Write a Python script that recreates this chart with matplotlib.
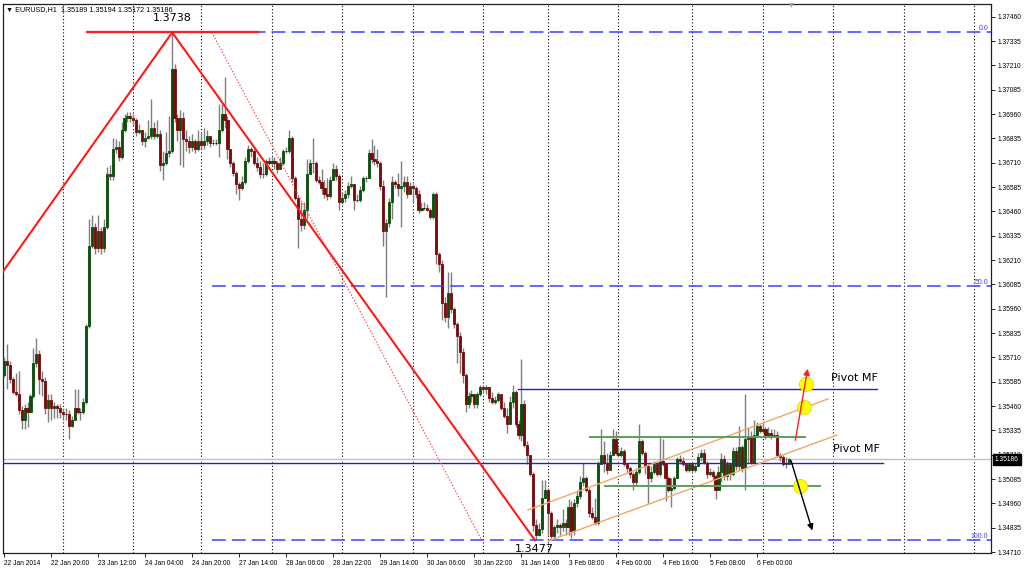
import matplotlib
matplotlib.use("Agg")
import matplotlib.pyplot as plt
from matplotlib.transforms import blended_transform_factory

# ---------------- data (EURUSD H1) ----------------
first_open = 1.3562
closes = [
    1.3569, 1.3567, 1.3560, 1.3553, 1.3552, 1.3544, 1.3539, 1.3545, 1.3543, 1.3551,
    1.3568, 1.3573, 1.3560, 1.3559, 1.3545, 1.3549, 1.3545, 1.3546, 1.3545, 1.3543,
    1.3542, 1.3542, 1.3536, 1.3539, 1.3545, 1.3543, 1.3543, 1.3548, 1.3587, 1.3628,
    1.3638, 1.3627, 1.3636, 1.3627, 1.3638, 1.3665, 1.3664, 1.3678, 1.3679, 1.3674,
    1.3688, 1.3694, 1.3695, 1.3694, 1.3693, 1.3687, 1.3688, 1.3682, 1.3684, 1.3685,
    1.3689, 1.3685, 1.3686, 1.3670, 1.3671, 1.3676, 1.3677, 1.3719, 1.3694, 1.3688,
    1.3694, 1.3683, 1.3682, 1.3679, 1.3682, 1.3678, 1.3682, 1.3680, 1.3682, 1.3685,
    1.3681, 1.3681, 1.3681, 1.3688, 1.3696, 1.3693, 1.3678, 1.3671, 1.3666, 1.3660,
    1.3658, 1.3661, 1.3672, 1.3678, 1.3677, 1.3671, 1.3669, 1.3665, 1.3665, 1.3672,
    1.3671, 1.3672, 1.3671, 1.3668, 1.3671, 1.3677, 1.3677, 1.3684, 1.3663, 1.3653,
    1.3642, 1.3639, 1.3647, 1.3665, 1.3671, 1.3671, 1.3662, 1.3661, 1.3658, 1.3655,
    1.3654, 1.3662, 1.3668, 1.3664, 1.3651, 1.3653, 1.3655, 1.3659, 1.3660, 1.3652,
    1.3652, 1.3657, 1.3663, 1.3663, 1.3676, 1.3673, 1.3672, 1.3671, 1.3659, 1.3636,
    1.3640, 1.3651, 1.3661, 1.3660, 1.3658, 1.3659, 1.3661, 1.3655, 1.3659, 1.3658,
    1.3655, 1.3647, 1.3648, 1.3648, 1.3647, 1.3643, 1.3655, 1.3624, 1.3619, 1.3599,
    1.3592, 1.3604, 1.3596, 1.3588, 1.3582, 1.3574, 1.3562, 1.3547, 1.3551, 1.3552,
    1.3547, 1.3552, 1.3556, 1.3555, 1.3556, 1.3550, 1.3548, 1.3549, 1.3552, 1.3545,
    1.3541, 1.3537, 1.3548, 1.3553, 1.3537, 1.3531, 1.3547, 1.3526, 1.3521, 1.3511,
    1.3485, 1.3480, 1.3483, 1.3499, 1.3503, 1.3491, 1.3479, 1.3484, 1.3485, 1.3484,
    1.3486, 1.3484, 1.3494, 1.3482, 1.3496, 1.3500, 1.3507, 1.3509, 1.3503, 1.3491,
    1.3489, 1.3486, 1.3516, 1.3521, 1.3517, 1.3513, 1.3521, 1.3529, 1.3522, 1.3521,
    1.3523, 1.3516, 1.3514, 1.3511, 1.3507, 1.3512, 1.3528, 1.3522, 1.3515, 1.3509,
    1.3512, 1.3516, 1.3511, 1.3518, 1.3516, 1.3509, 1.3503, 1.3504, 1.3509, 1.3519,
    1.3518, 1.3516, 1.3513, 1.3516, 1.3513, 1.3515, 1.3520, 1.3522, 1.3517, 1.3511,
    1.3512, 1.3510, 1.3503, 1.3512, 1.3519, 1.3510, 1.3516, 1.3511, 1.3523, 1.3515,
    1.3525, 1.3514, 1.3529, 1.3530, 1.3517, 1.3531, 1.3536, 1.3533, 1.3534, 1.3531,
    1.3532, 1.3530, 1.3531, 1.3521, 1.3520, 1.3516, 1.3516, 1.35186,
]
highs = [
    1.3571, 1.3578, 1.3569, 1.3561, 1.3563, 1.3564, 1.3546, 1.3547, 1.3548, 1.3552,
    1.3576, 1.3581, 1.3575, 1.3564, 1.3561, 1.3552, 1.3552, 1.3548, 1.3547, 1.3547,
    1.3545, 1.3545, 1.3544, 1.3541, 1.3555, 1.3555, 1.3545, 1.3550, 1.3588, 1.3642,
    1.3644, 1.3640, 1.3644, 1.3638, 1.3642, 1.3669, 1.3670, 1.3684, 1.3683, 1.3682,
    1.3692, 1.3696, 1.3697, 1.3697, 1.3696, 1.3694, 1.3691, 1.3688, 1.3687, 1.3693,
    1.3704, 1.3692, 1.3693, 1.3688, 1.3677, 1.3687, 1.3695, 1.3738, 1.3722, 1.3696,
    1.3698, 1.3697, 1.3688, 1.3685, 1.3686, 1.3683, 1.3688, 1.3687, 1.3689, 1.3688,
    1.3685, 1.3683, 1.3683, 1.3701, 1.3701, 1.3715, 1.3695, 1.3678, 1.3672, 1.3667,
    1.3661, 1.3664, 1.3674, 1.3680, 1.3679, 1.3678, 1.3674, 1.3672, 1.3671, 1.3673,
    1.3674, 1.3674, 1.3674, 1.3672, 1.3674, 1.3678, 1.3679, 1.3688, 1.3685, 1.3664,
    1.3654, 1.3651, 1.3651, 1.3673, 1.3673, 1.3684, 1.3672, 1.3664, 1.3668, 1.3662,
    1.3663, 1.3664, 1.3671, 1.3670, 1.3665, 1.3656, 1.3657, 1.3661, 1.3664, 1.3660,
    1.3655, 1.3659, 1.3664, 1.3664, 1.3678, 1.3683, 1.3680, 1.3678, 1.3672, 1.3662,
    1.3642, 1.3653, 1.3664, 1.3662, 1.3666, 1.3672, 1.3664, 1.3664, 1.3661, 1.3660,
    1.3659, 1.3657, 1.3651, 1.3651, 1.3650, 1.3648, 1.3656, 1.3656, 1.3625, 1.3621,
    1.3602, 1.3615, 1.3615, 1.3597, 1.3589, 1.3584, 1.3576, 1.3563, 1.3553, 1.3554,
    1.3551, 1.3553, 1.3557, 1.3557, 1.3557, 1.3556, 1.3553, 1.3551, 1.3553, 1.3550,
    1.3548, 1.3545, 1.3551, 1.3557, 1.3554, 1.3539, 1.3570, 1.3549, 1.3528, 1.3521,
    1.3512, 1.3488, 1.3486, 1.3508, 1.3508, 1.3504, 1.3492, 1.3485, 1.3488, 1.3486,
    1.3493, 1.3488, 1.3498, 1.3497, 1.3498, 1.3503, 1.3510, 1.3517, 1.3510, 1.3504,
    1.3494, 1.3499, 1.3518, 1.3534, 1.3528, 1.3522, 1.3523, 1.3534, 1.3533, 1.3525,
    1.3525, 1.3524, 1.3517, 1.3515, 1.3512, 1.3514, 1.3537, 1.3529, 1.3523, 1.3517,
    1.3515, 1.3518, 1.3518, 1.3530, 1.3529, 1.3517, 1.3510, 1.3509, 1.3510, 1.3520,
    1.3521, 1.3520, 1.3517, 1.3517, 1.3516, 1.3517, 1.3522, 1.3524, 1.3524, 1.3518,
    1.3514, 1.3513, 1.3511, 1.3515, 1.3522, 1.3521, 1.3518, 1.3517, 1.3525, 1.3525,
    1.3536, 1.3526, 1.3552, 1.3535, 1.3533, 1.3539, 1.3538, 1.3537, 1.3538, 1.3535,
    1.3535, 1.3534, 1.3534, 1.3533, 1.3522, 1.3521, 1.3520, 1.35194,
]
lows = [
    1.3561, 1.3555, 1.3558, 1.3552, 1.3551, 1.3542, 1.3534, 1.3534, 1.3535, 1.3543,
    1.3550, 1.3566, 1.3552, 1.3551, 1.3542, 1.3538, 1.3539, 1.3540, 1.3540, 1.3540,
    1.3539, 1.3539, 1.3529, 1.3535, 1.3539, 1.3542, 1.3539, 1.3542, 1.3547, 1.3586,
    1.3627, 1.3624, 1.3625, 1.3624, 1.3625, 1.3637, 1.3662, 1.3662, 1.3676, 1.3672,
    1.3673, 1.3687, 1.3692, 1.3692, 1.3690, 1.3685, 1.3686, 1.3680, 1.3679, 1.3683,
    1.3683, 1.3683, 1.3684, 1.3667, 1.3662, 1.3670, 1.3674, 1.3676, 1.3692, 1.3682,
    1.3670, 1.3669, 1.3677, 1.3676, 1.3677, 1.3676, 1.3677, 1.3678, 1.3678, 1.3680,
    1.3679, 1.3680, 1.3680, 1.3674, 1.3687, 1.3689, 1.3673, 1.3669, 1.3664, 1.3655,
    1.3652, 1.3657, 1.3660, 1.3671, 1.3674, 1.3670, 1.3667, 1.3663, 1.3663, 1.3664,
    1.3670, 1.3670, 1.3668, 1.3666, 1.3668, 1.3670, 1.3676, 1.3676, 1.3661, 1.3652,
    1.3627, 1.3636, 1.3637, 1.3642, 1.3665, 1.3666, 1.3661, 1.3660, 1.3655, 1.3653,
    1.3652, 1.3653, 1.3664, 1.3662, 1.3647, 1.3650, 1.3651, 1.3653, 1.3658, 1.3647,
    1.3651, 1.3651, 1.3656, 1.3661, 1.3663, 1.3671, 1.3670, 1.3669, 1.3657, 1.3628,
    1.3602, 1.3638, 1.3642, 1.3658, 1.3654, 1.3638, 1.3656, 1.3653, 1.3655, 1.3651,
    1.3653, 1.3645, 1.3646, 1.3647, 1.3646, 1.3642, 1.3642, 1.3619, 1.3615, 1.3590,
    1.3589, 1.3586, 1.3594, 1.3586, 1.3568, 1.3563, 1.3558, 1.3543, 1.3545, 1.3548,
    1.3545, 1.3545, 1.3551, 1.3553, 1.3552, 1.3548, 1.3547, 1.3547, 1.3548, 1.3544,
    1.3540, 1.3532, 1.3543, 1.3545, 1.3535, 1.3529, 1.3528, 1.3525, 1.3516, 1.3510,
    1.3482, 1.3477, 1.3479, 1.3481, 1.3499, 1.3480, 1.3478, 1.3478, 1.3481, 1.3480,
    1.3482, 1.3480, 1.3480, 1.3478, 1.3480, 1.3494, 1.3498, 1.3505, 1.3502, 1.3489,
    1.3488, 1.3485, 1.3485, 1.3516, 1.3512, 1.3511, 1.3513, 1.3526, 1.3521, 1.3520,
    1.3520, 1.3515, 1.3512, 1.3509, 1.3503, 1.3505, 1.3511, 1.3521, 1.3511, 1.3496,
    1.3507, 1.3511, 1.3510, 1.3510, 1.3515, 1.3497, 1.3502, 1.3494, 1.3503, 1.3512,
    1.3516, 1.3515, 1.3512, 1.3512, 1.3512, 1.3512, 1.3515, 1.3518, 1.3516, 1.3509,
    1.3510, 1.3508, 1.3498, 1.3503, 1.3507, 1.3508, 1.3508, 1.3508, 1.3510, 1.3513,
    1.3513, 1.3512, 1.3503, 1.3517, 1.3516, 1.3517, 1.3530, 1.3532, 1.3532, 1.3529,
    1.3530, 1.3529, 1.3530, 1.3520, 1.3518, 1.3515, 1.3514, 1.35172,
]

time_labels = ["22 Jan 2014", "22 Jan 20:00", "23 Jan 12:00", "24 Jan 04:00",
               "24 Jan 20:00", "27 Jan 14:00", "28 Jan 06:00", "28 Jan 22:00",
               "29 Jan 14:00", "30 Jan 06:00", "30 Jan 22:00", "31 Jan 14:00",
               "3 Feb 08:00", "4 Feb 00:00", "4 Feb 16:00", "5 Feb 08:00",
               "6 Feb 00:00"]
label_step = 16                      # one label every 16 hourly bars
day_separators = [20, 44, 67, 91, 115, 139, 163, 185, 209, 234, 258, 282, 306, 330]
price_ticks = [1.34710, 1.34835, 1.34960, 1.35085, 1.35210, 1.35335, 1.35460,
               1.35585, 1.35710, 1.35835, 1.35960, 1.36085, 1.36210, 1.36335,
               1.36460, 1.36585, 1.36710, 1.36835, 1.36960, 1.37085, 1.37210,
               1.37335, 1.37460]

swing_high = 1.3738
swing_low = 1.3477
swing_start = 1.3615
fib_levels = [0.0, 50.0, 100.0]
pivot_upper = 1.3555
pivot_lower = 1.3517
range_top = 1.3530
range_bottom = 1.3505
last_price = 1.35186
header = "EURUSD,H1  1.35189 1.35194 1.35172 1.35186"

SMALL = ["Liberation Sans", "DejaVu Sans"]

# ---------------- figure ----------------
fig = plt.figure(figsize=(10.24, 5.70), dpi=100)
fig.patch.set_facecolor("white")
ax = fig.add_axes([3 / 1024, 17 / 570, 988 / 1024, 549 / 570])
ax.set_xlim(-0.34, 335.7)
ax.set_ylim(1.34705, 1.37526)

n = len(closes)
opens = [first_open] + closes[:-1]
xs = list(range(n))

# grid (day separators)
for d in day_separators:
    ax.axvline(d, color="black", lw=0.8, ls=(0, (1, 2)), zorder=1)

# candles
up_col, dn_col, wick_col = "#0b4d0b", "#7a0a0a", "#7f7f7f"
for i in xs:
    o, c, h, l = opens[i], closes[i], highs[i], lows[i]
    top = max(h, o, c)
    bot = min(l, o, c)
    ax.vlines(i, bot, top, color=wick_col, lw=1, zorder=3)
    col = up_col if c >= o else dn_col
    ax.bar(i, c - o, bottom=o, width=0.72, color=col,
           edgecolor=col if abs(c - o) > 1e-6 else "black", lw=0.6, zorder=4)

# Fibonacci levels
fib_start = 70.7
for lev in fib_levels:
    p = swing_high - (swing_high - swing_low) * lev / 100.0
    ax.plot([fib_start, 335.7], [p, p], color="#3f3fff", lw=1.1, ls=(0, (9, 4)), zorder=5)
    ax.text(334.8, p + 0.00003, f"{lev:.1f}", color="#3f3fff", fontsize=5, family=SMALL,
            ha="right", va="bottom", zorder=6)

# price lines
ax.axhline(last_price, color="#c0c0c0", lw=1, zorder=2)
ax.plot([-1, 299], [pivot_lower, pivot_lower], color="#2020d0", lw=1, zorder=5)
ax.plot([174.8, 297], [pivot_upper, pivot_upper], color="#2020d0", lw=1, zorder=5)

# zigzag + swing marks
ax.plot([-0.4, 57.2, 180.6], [swing_start, swing_high, swing_low], color="#ff1a1a", lw=1.5, zorder=7)
ax.plot([28.2, 86.4], [swing_high, swing_high], color="#ff1a1a", lw=1.6, zorder=7)
ax.plot([70.7, 162.5], [swing_high, swing_low], color="#ff4040", lw=0.9, ls=(0, (1, 1.5)), zorder=6)
ax.text(57.2, 1.37454, "1.3738", fontsize=8, ha="center", va="center", zorder=8)
ax.text(180.4, 1.34728, "1.3477", fontsize=8, ha="center", va="center", zorder=8)

# channel
chan_col = "#f0a868"
ax.plot([178.2, 280.3], [1.34926, 1.35497], color=chan_col, lw=1, zorder=6)
ax.plot([185.0, 283.3], [1.34766, 1.35311], color=chan_col, lw=1, zorder=6)

# range lines
ax.plot([199.3, 272.4], [range_top, range_top], color="#5aa05a", lw=1.4, zorder=6)
ax.plot([204.4, 277.6], [range_bottom, range_bottom], color="#5aa05a", lw=1.4, zorder=6)

# markers
ax.scatter([272.8, 272.1, 270.7], [1.35573, 1.35455, 1.35049], s=105, color="#ffff00",
           edgecolor="#e0d000", lw=0.5, zorder=9)

# arrows
ax.annotate("", xy=(273.5, 1.35666), xytext=(269.0, 1.35270),
            arrowprops=dict(arrowstyle="-|>", color="#ff2020", lw=1, mutation_scale=9), zorder=10)
ax.annotate("", xy=(275.2, 1.34807), xytext=(267.4, 1.35193),
            arrowprops=dict(arrowstyle="-|>", color="black", lw=1, mutation_scale=9), zorder=10)

ax.text(281.3, 1.35604, "Pivot MF", fontsize=8, ha="left", va="center", zorder=8)
ax.text(282.0, 1.35239, "Pivot MF", fontsize=8, ha="left", va="center", zorder=8)

# axes styling
for s in ax.spines.values():
    s.set_color("#202020")
    s.set_linewidth(0.9)
ax.yaxis.tick_right()
ax.set_yticks(price_ticks)
ax.set_yticklabels([f"{t:.5f}" for t in price_ticks], family=SMALL)
ax.tick_params(axis="y", direction="out", length=3, width=0.6, labelsize=4.8, pad=1.5)
ticks_x = [i * label_step for i in range(len(time_labels))]
ax.set_xticks(ticks_x)
ax.set_xticklabels(time_labels, family=SMALL)
ax.tick_params(axis="x", direction="out", length=3, width=0.6, labelsize=4.8, pad=2)
for lbl in ax.get_xticklabels():
    lbl.set_ha("left")

# current price tag
tr = blended_transform_factory(ax.transAxes, ax.transData)
ax.text(1.004, last_price, f"{last_price:.5f}", transform=tr, color="white", fontsize=4.8,
        family=SMALL, ha="left", va="center", zorder=20, clip_on=False,
        bbox=dict(boxstyle="square,pad=0.3", fc="black", ec="black"))

# header
fig.text(6 / 1024, 1 - 10 / 570, "\u25BC " + header, fontsize=5.2, family=SMALL,
         va="center", ha="left")
fig.text(791 / 1024, 1 - 6 / 570, "\u25BC", fontsize=4.5, color="#a0a0a0", va="center", ha="center")

fig.savefig("out.png", dpi=100, facecolor="white")
